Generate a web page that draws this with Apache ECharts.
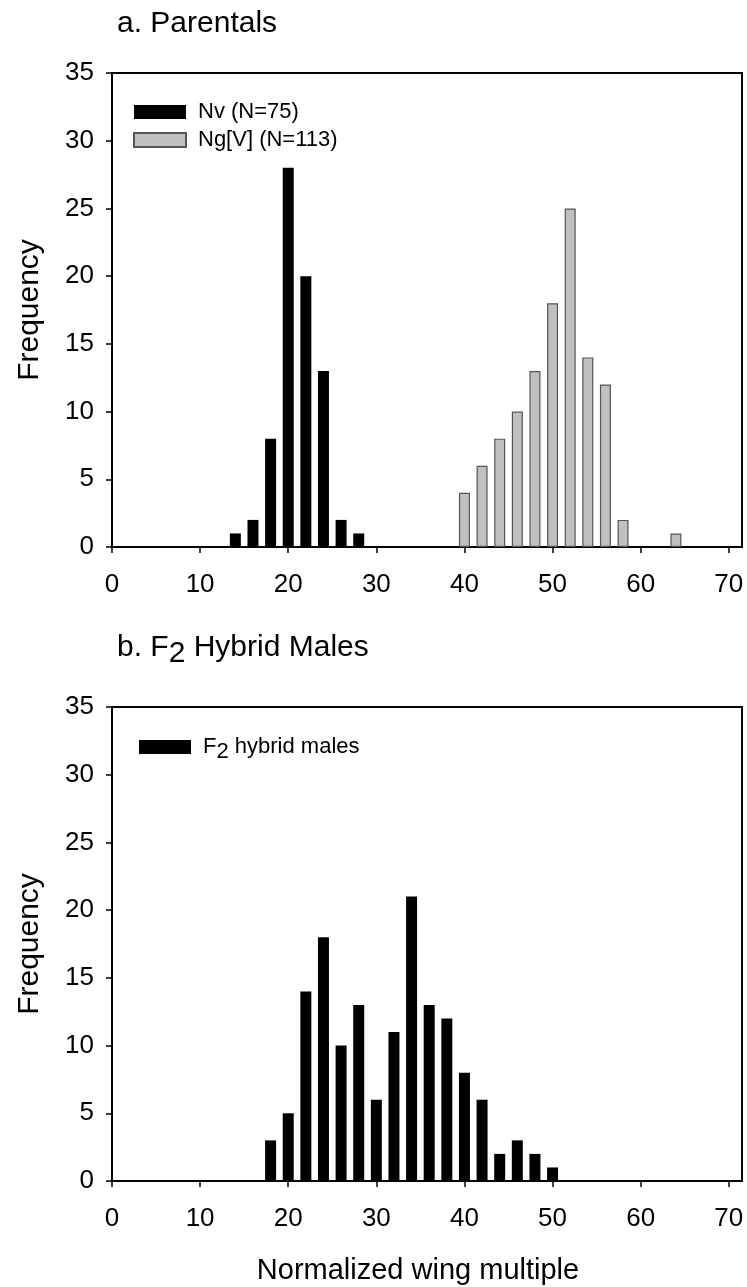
<!DOCTYPE html>
<html>
<head>
<meta charset="utf-8">
<script src="https://cdn.jsdelivr.net/npm/echarts@6/dist/echarts.min.js"></script>
<style>
html,body{margin:0;padding:0;background:#fff;}
#chart{width:747px;height:1287px;}
</style>
</head>
<body>
<div id="chart"></div>
<script>
// ---- data ----
const nvBins = [14, 16, 18, 20, 22, 24, 26, 28];
const nvCounts = [1, 2, 8, 28, 20, 13, 2, 1];
const ngBins = [40, 42, 44, 46, 48, 50, 52, 54, 56, 58, 64];
const ngCounts = [4, 6, 8, 10, 13, 18, 25, 14, 12, 2, 1];
const f2Bins = [18, 20, 22, 24, 26, 28, 30, 32, 34, 36, 38, 40, 42, 44, 46, 48, 50];
const f2Counts = [3, 5, 14, 18, 10, 13, 6, 11, 21, 13, 12, 8, 6, 2, 3, 2, 1];
const xTicks = [0, 10, 20, 30, 40, 50, 60, 70];
const yTicks = [0, 5, 10, 15, 20, 25, 30, 35];
const seriesNames = ['Nv (N=75)', 'Ng[V] (N=113)', 'F2 hybrid males'];
const panelTitles = ['a. Parentals', 'b. F2 Hybrid Males'];
const yTitle = 'Frequency';
const xTitle = 'Normalized wing multiple';

const zip = (a, b) => a.map((v, i) => [v, b[i]]);
const FONT = '"Liberation Sans", Arial, sans-serif';

function xAxis(idx, withName) {
  return {
    type: 'value', gridIndex: idx, min: 0, max: 71.5, interval: 10,
    name: withName ? xTitle : '', nameLocation: 'middle', nameGap: 75,
    nameTextStyle: {fontFamily: FONT, fontSize: 29, color: '#000', padding: [0, 18, 0, 0]},
    axisLine: {show: true, onZero: false, lineStyle: {color: '#000', width: 2}},
    axisTick: {show: true, inside: false, length: 6, customValues: xTicks, lineStyle: {color: '#000', width: 1.5}},
    axisLabel: {show: true, customValues: xTicks, margin: 25, fontFamily: FONT, fontSize: 26, color: '#000'},
    splitLine: {show: false}
  };
}
function yAxis(idx) {
  return {
    type: 'value', gridIndex: idx, min: 0, max: 35, interval: 5,
    name: yTitle, nameLocation: 'middle', nameGap: 67, nameRotate: 90,
    nameTextStyle: {fontFamily: FONT, fontSize: 30, color: '#000'},
    axisLine: {show: true, lineStyle: {color: '#000', width: 2}},
    axisTick: {show: true, inside: false, length: 6, lineStyle: {color: '#000', width: 1.5}},
    axisLabel: {show: true, margin: 18, fontFamily: FONT, fontSize: 26, color: '#000'},
    splitLine: {show: false}
  };
}

const chart = echarts.init(document.getElementById('chart'), null, {renderer: 'canvas'});
chart.setOption({
  animation: false,
  backgroundColor: '#fff',
  title: [
    {text: panelTitles[0], left: 112, top: 4, textStyle: {fontFamily: FONT, fontSize: 30, fontWeight: 'normal', color: '#000'}},
    {text: '{t|b. F}{s|2}{t| Hybrid Males}', left: 112, top: 622,
     textStyle: {fontFamily: FONT, fontSize: 30, fontWeight: 'normal', color: '#000',
       rich: {t: {fontFamily: FONT, fontSize: 30, color: '#000'},
              s: {fontFamily: FONT, fontSize: 30, color: '#000', padding: [12, 0, 0, 0]}}}}
  ],
  grid: [
    {left: 112, top: 73, width: 630, height: 474, show: true, borderColor: '#000', borderWidth: 2, backgroundColor: 'transparent'},
    {left: 112, top: 707, width: 630, height: 474, show: true, borderColor: '#000', borderWidth: 2, backgroundColor: 'transparent'}
  ],
  legend: [
    {data: [seriesNames[0], seriesNames[1]], orient: 'vertical', left: 128, top: 96,
     itemWidth: 52, itemHeight: 14, itemGap: 6, icon: 'rect',
     textStyle: {fontFamily: FONT, fontSize: 22, color: '#000', padding: [0, 0, 0, 7]}},
    {data: [seriesNames[2]], orient: 'vertical', left: 134, top: 731,
     itemWidth: 52, itemHeight: 14, icon: 'rect',
     formatter: () => '{a|F}{s|2}{a| hybrid males}',
     textStyle: {fontFamily: FONT, fontSize: 22, color: '#000', padding: [0, 0, 0, 7],
       rich: {a: {fontFamily: FONT, fontSize: 22, color: '#000'},
              s: {fontFamily: FONT, fontSize: 22, color: '#000', padding: [9, 0, 0, 0]}}}}
  ],
  xAxis: [xAxis(0, false), xAxis(1, true)],
  yAxis: [yAxis(0), yAxis(1)],
  series: [
    {name: seriesNames[0], type: 'bar', xAxisIndex: 0, yAxisIndex: 0, data: zip(nvBins, nvCounts),
     barWidth: 11, barGap: '-100%', itemStyle: {color: '#000', borderColor: '#000', borderWidth: 0}},
    {name: seriesNames[1], type: 'bar', xAxisIndex: 0, yAxisIndex: 0, data: zip(ngBins, ngCounts),
     barWidth: 11, barGap: '-100%', itemStyle: {color: '#c0c0c0', borderColor: '#555', borderWidth: 1.2}},
    {name: seriesNames[2], type: 'bar', xAxisIndex: 1, yAxisIndex: 1, data: zip(f2Bins, f2Counts),
     barWidth: 11, itemStyle: {color: '#000', borderColor: '#000', borderWidth: 0}}
  ]
});
</script>
</body>
</html>
